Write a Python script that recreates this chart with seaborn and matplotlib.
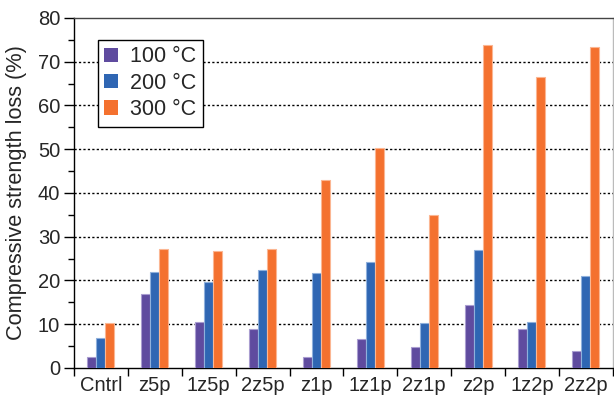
import numpy as np
import pandas as pd
import matplotlib.pyplot as plt
import seaborn as sns
from matplotlib.ticker import MultipleLocator, FixedLocator

mixes = ["Cntrl", "z5p", "1z5p", "2z5p", "z1p", "1z1p", "2z1p", "z2p", "1z2p", "2z2p"]
temps = ["100 °C", "200 °C", "300 °C"]
loss_100 = [2.5, 17.0, 10.6, 9.0, 2.6, 6.7, 4.7, 14.3, 9.0, 3.9]
loss_200 = [6.8, 22.0, 19.6, 22.3, 21.6, 24.2, 10.2, 26.9, 10.4, 21.0]
loss_300 = [10.3, 27.3, 26.7, 27.2, 43.0, 50.3, 35.0, 73.8, 66.4, 73.3]
colors = ["#5f4b9f", "#2f66b3", "#f4712f"]
edges = ["#a99dd0", "#8fb0dc", "#fbb692"]

df = pd.DataFrame({
    "mix": mixes * 3,
    "temp": [temps[0]] * 10 + [temps[1]] * 10 + [temps[2]] * 10,
    "loss": loss_100 + loss_200 + loss_300,
})

sns.set_style("white")
plt.rcParams["font.family"] = ["Liberation Sans", "DejaVu Sans"]

fig, ax = plt.subplots(figsize=(6.14, 3.98), dpi=100)
fig.subplots_adjust(left=0.1205, right=0.998, top=0.955, bottom=0.0754)

sns.barplot(data=df, x="mix", y="loss", hue="temp", palette=colors,
            saturation=1, width=0.5, ax=ax, zorder=3, linewidth=0.8)

# lighter outline per series
for cont, ec in zip(ax.containers, edges):
    for p in cont:
        p.set_edgecolor(ec)

ax.set_ylim(0, 80)
ax.set_xlim(-0.5, 9.5)
ax.yaxis.set_major_locator(MultipleLocator(10))
ax.yaxis.set_minor_locator(MultipleLocator(5))
ax.xaxis.set_minor_locator(FixedLocator(np.arange(-0.5, 10, 1)))
ax.tick_params(axis="x", which="major", length=0, labelsize=14.5, pad=6)
ax.tick_params(axis="x", which="minor", length=6, width=1, color="black", direction="out", bottom=True)
ax.tick_params(axis="y", which="major", length=7, width=1, color="black", labelsize=14.5, left=True, direction="out", pad=3)
ax.tick_params(axis="y", which="minor", length=4, width=1, color="black", left=True, direction="out")

for y in range(10, 80, 10):
    ax.axhline(y, color="black", linestyle=(0, (1.6, 1.6)), linewidth=1, zorder=1)

ax.set_xlabel("")
ax.set_ylabel("Compressive strength loss (%)", fontsize=15.7, labelpad=8)

ax.spines["left"].set_color("black")
ax.spines["bottom"].set_color("black")
ax.spines["top"].set_color("#444444")
ax.spines["right"].set_color("#bbbbbb")
for s in ax.spines.values():
    s.set_linewidth(1)

leg = ax.legend(loc="upper left", bbox_to_anchor=(0.0445, 0.937), fontsize=15.5,
                frameon=True, fancybox=False, edgecolor="black", framealpha=1,
                handlelength=0.65, handleheight=0.65, handletextpad=0.55,
                borderpad=0.3, labelspacing=0.25, borderaxespad=0, title=None)
leg.get_frame().set_linewidth(1)
for h in leg.legend_handles:
    h.set_edgecolor("none")

fig.savefig("out.png", dpi=100)
